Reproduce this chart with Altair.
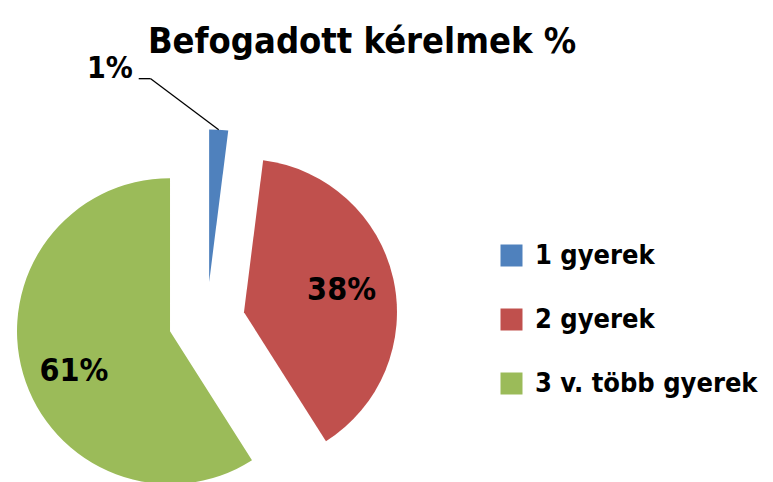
import altair as alt
import pandas as pd

# ---- data ----
categories = ["1 gyerek", "2 gyerek", "3 v. több gyerek"]
values = [2.0, 39.0, 59.0]          # slice sizes as drawn
labels = ["1%", "38%", "61%"]       # data labels as printed
colors = ["#4F81BD", "#C0504D", "#9BBB59"]
title_text = "Befogadott kérelmek %"

df = pd.DataFrame({"cat": categories, "value": values, "label": labels,
                   "order": list(range(len(categories)))})

# ---- layout ----
W, H = 757, 466
CX, CY = 198.7, 312.5     # centre of the (un-exploded) pie, px
R = 153                   # pie radius, px
D = 38.2                  # explosion distance, px
LR = 100                  # inside-label radius, px
FONT = "DejaVu Sans Condensed"

base = (
    alt.Chart(df)
    .transform_joinaggregate(total="sum(value)")
    .transform_window(cum="sum(value)", sort=[alt.SortField("order")], frame=[None, 0])
    .transform_calculate(
        end="2*PI*datum.cum/datum.total",
        start="2*PI*(datum.cum-datum.value)/datum.total",
    )
    .transform_calculate(mid="(datum.start+datum.end)/2")
    .transform_calculate(
        px=f"{CX}+{D}*sin(datum.mid)",
        py=f"{CY}-{D}*cos(datum.mid)",
    )
    .transform_calculate(
        lx=f"datum.px+{LR}*sin(datum.mid)",
        ly=f"datum.py-{LR}*cos(datum.mid)+(datum.value>50?12:0)",
        rx=f"datum.px+{R}*sin(datum.mid)",
        ry=f"datum.py-{R}*cos(datum.mid)",
    )
    .transform_calculate(
        kx="datum.rx-68",
        ky="datum.ry-51",
    )
    .transform_calculate(ex="datum.kx-12")
)

arcs = base.mark_arc(radius=R).encode(
    theta=alt.Theta("start:Q", scale=None, stack=False),
    theta2="end:Q",
    x=alt.X("px:Q", scale=None),
    y=alt.Y("py:Q", scale=None),
    color=alt.Color(
        "cat:N",
        scale=alt.Scale(domain=categories, range=colors),
        sort=categories,
        legend=alt.Legend(
            orient="none", legendX=490, legendY=234, title=None,
            symbolType="square", symbolSize=484, symbolStrokeWidth=0,
            labelFontSize=27, labelFont=FONT, labelFontWeight="bold",
            labelColor="black", rowPadding=36, labelLimit=400, labelOffset=10,
        ),
    ),
)

inside = base.transform_filter("datum.value >= 5").mark_text(
    font=FONT, fontSize=32, fontWeight="bold", color="black",
    align="center", baseline="middle",
).encode(
    x=alt.X("lx:Q", scale=None),
    y=alt.Y("ly:Q", scale=None),
    text="label:N",
)

small = base.transform_filter("datum.value < 5")
leader1 = small.mark_rule(color="black", strokeWidth=1.3).encode(
    x=alt.X("rx:Q", scale=None), y=alt.Y("ry:Q", scale=None),
    x2="kx:Q", y2="ky:Q",
)
leader2 = small.mark_rule(color="black", strokeWidth=1.3).encode(
    x=alt.X("kx:Q", scale=None), y=alt.Y("ky:Q", scale=None),
    x2="ex:Q", y2="ky:Q",
)
outside = small.mark_text(
    font=FONT, fontSize=30, fontWeight="bold", color="black",
    align="right", baseline="middle", dx=-6, dy=-10,
).encode(
    x=alt.X("ex:Q", scale=None),
    y=alt.Y("ky:Q", scale=None),
    text="label:N",
)

title = alt.Chart(pd.DataFrame({"t": [title_text]})).mark_text(
    font=FONT, fontSize=36, fontWeight="bold", color="black",
    align="center", baseline="alphabetic",
).encode(x=alt.value(354), y=alt.value(45), text="t:N")

chart = (
    alt.layer(arcs, inside, leader1, leader2, outside, title)
    .properties(width=W, height=H, padding=0)
    .configure_view(stroke=None)
)

chart.save("out.html", embed_options={"renderer": "svg", "actions": False})
